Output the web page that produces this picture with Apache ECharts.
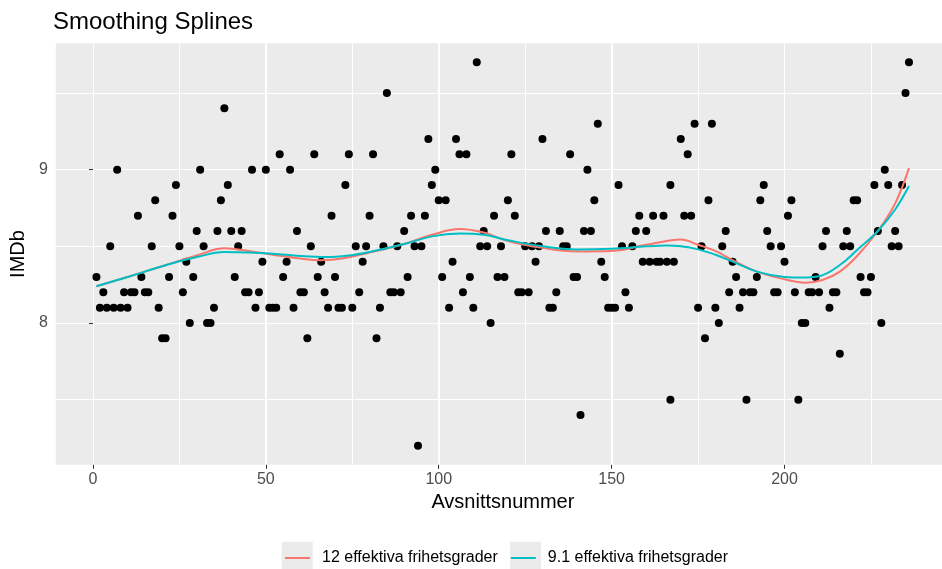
<!DOCTYPE html>
<html>
<head>
<meta charset="utf-8">
<script src="https://cdn.jsdelivr.net/npm/echarts@6/dist/echarts.min.js"></script>
<style>html,body{margin:0;padding:0;background:#fff}#c{width:942px;height:569px}</style>
</head>
<body>
<div id="c"></div>
<script>
// Episode numbers (x) and IMDb ratings (y)
const episodes = [
  1,2,3,4,5,6,7,8,9,10,
  11,12,13,14,15,16,17,18,19,20,
  21,22,23,24,25,26,27,28,29,30,
  31,32,33,34,35,36,37,38,39,40,
  41,42,43,44,45,46,47,48,49,50,
  51,52,53,54,55,56,57,58,59,60,
  61,62,63,64,65,66,67,68,69,70,
  71,72,73,74,75,76,77,78,79,80,
  81,82,83,84,85,86,87,88,89,90,
  91,92,93,94,95,96,97,98,99,100,
  101,102,103,104,105,106,107,108,109,110,
  111,112,113,114,115,116,117,118,119,120,
  121,122,123,124,125,126,127,128,129,130,
  131,132,133,134,135,136,137,138,139,140,
  141,142,143,144,145,146,147,148,149,150,
  151,152,153,154,155,156,157,158,159,160,
  161,162,163,164,165,166,167,167,168,
  170,171,172,173,174,175,176,177,178,179,
  180,181,182,183,184,185,186,187,188,189,
  190,191,192,193,194,195,196,197,198,199,
  200,201,202,203,204,205,206,207,208,209,
  210,211,212,213,214,215,216,217,218,219,
  220,221,222,223,224,225,226,227,228,229,
  230,231,232,233,234,235,236
];
const ratings = [
  8.3,8.1,8.2,8.1,8.5,8.1,9.0,8.1,8.2,8.1,
  8.2,8.2,8.7,8.3,8.2,8.2,8.5,8.8,8.1,7.9,
  7.9,8.3,8.7,8.9,8.5,8.2,8.4,8.0,8.3,8.6,
  9.0,8.5,8.0,8.0,8.1,8.6,8.8,9.4,8.9,8.6,
  8.3,8.5,8.6,8.2,8.2,9.0,8.1,8.2,8.4,9.0,
  8.1,8.1,8.1,9.1,8.3,8.4,9.0,8.1,8.6,8.2,
  8.2,7.9,8.5,9.1,8.3,8.4,8.2,8.1,8.7,8.3,
  8.1,8.1,8.9,9.1,8.1,8.5,8.2,8.4,8.5,8.7,
  9.1,7.9,8.1,8.5,9.5,8.2,8.2,8.5,8.2,8.6,
  8.3,8.7,8.5,7.2,8.5,8.7,9.2,8.9,9.0,8.8,
  8.3,8.8,8.1,8.4,9.2,9.1,8.2,9.1,8.3,8.1,
  9.7,8.5,8.6,8.5,8.0,8.7,8.3,8.5,8.3,8.8,
  9.1,8.7,8.2,8.2,8.5,8.2,8.5,8.4,8.5,9.2,
  8.6,8.1,8.1,8.2,8.6,8.5,8.5,9.1,8.3,8.3,
  7.4,8.6,9.0,8.6,8.8,9.3,8.4,8.3,8.1,8.1,
  8.1,8.9,8.5,8.2,8.1,8.5,8.6,8.7,8.4,8.6,
  8.4,8.7,8.4,8.4,8.7,8.4,8.9,7.5,8.4,
  9.2,8.7,9.1,8.7,9.3,8.1,8.5,7.9,8.8,9.3,
  8.1,8.0,8.5,8.6,8.2,8.4,8.3,8.1,8.2,7.5,
  8.2,8.2,8.3,8.8,8.9,8.6,8.5,8.2,8.2,8.5,
  8.4,8.7,8.8,8.2,7.5,8.0,8.0,8.2,8.2,8.3,
  8.2,8.5,8.6,8.1,8.2,8.2,7.8,8.5,8.6,8.5,
  8.8,8.8,8.3,8.2,8.2,8.3,8.9,8.6,8.0,9.0,
  8.9,8.5,8.6,8.5,8.9,9.5,9.7
];

// Smoothing spline curves at these episodes
const spline12X = [1,10,20,30,38,45,52,60,66,72,80,90,98,106,113,120,130,140,150,160,166,170,175,180,185,192,200,206,211,216,221,227,232,236];
const spline12Y = [8.24,8.30,8.37,8.44,8.487,8.47,8.445,8.42,8.41,8.42,8.46,8.515,8.575,8.613,8.59,8.535,8.49,8.467,8.47,8.51,8.535,8.545,8.51,8.47,8.41,8.335,8.285,8.263,8.28,8.335,8.437,8.60,8.78,9.01];
const spline91X = [1,10,20,30,38,45,52,60,67,74,80,90,98,106,113,120,130,140,150,160,166,170,175,180,185,192,200,205,210,216,221,227,232,236];
const spline91Y = [8.24,8.30,8.37,8.43,8.463,8.46,8.452,8.437,8.43,8.44,8.463,8.515,8.565,8.583,8.575,8.54,8.50,8.48,8.485,8.50,8.505,8.50,8.48,8.445,8.40,8.335,8.30,8.296,8.305,8.378,8.476,8.60,8.74,8.893];

const xTicks = [0,50,100,150,200];
const yTicks = [8,9];
const seriesNames = ['12 effektiva frihetsgrader','9.1 effektiva frihetsgrader'];
const titleText = 'Smoothing Splines';
const xTitle = 'Avsnittsnummer';
const yTitle = 'IMDb';

const FONT = 'Liberation Sans, Arial, Helvetica, sans-serif';
const points = episodes.map((e,i)=>[e, ratings[i]]);
const curve12 = spline12X.map((e,i)=>[e, spline12Y[i]]);
const curve91 = spline91X.map((e,i)=>[e, spline91Y[i]]);

const XMIN = -10.75, XMAX = 245.55, YMIN = 7.075, YMAX = 9.825;

const chart = echarts.init(document.getElementById('c'), null, {renderer:'canvas'});
chart.setOption({
  animation: false,
  backgroundColor: '#ffffff',
  title: {
    text: titleText, left: 53, top: 10, padding: 0,
    textStyle: {fontFamily: FONT, fontSize: 24, fontWeight: 'normal', color: '#000'}
  },
  grid: {
    left: 53.4, top: 43.2, width: 888.6, height: 421.6,
    show: true, backgroundColor: '#EBEBEB', borderWidth: 0, containLabel: false
  },
  xAxis: [
    {
      type: 'value', min: XMIN, max: XMAX, minInterval: 50, maxInterval: 50,
      axisLine: {show: false},
      axisTick: {show: true, length: 4, customValues: xTicks, lineStyle: {color: '#333', width: 1}},
      axisLabel: {customValues: xTicks, color: '#4D4D4D', fontSize: 16, fontFamily: FONT, margin: 7},
      splitLine: {show: true, showMinLine: false, showMaxLine: false, lineStyle: {color: '#ffffff', width: 2}},
      name: xTitle, nameLocation: 'middle', nameGap: 27,
      nameTextStyle: {fontFamily: FONT, fontSize: 20, color: '#000', padding: [0,0,0,8]}
    },
    {
      type: 'value', min: XMIN, max: XMAX, minInterval: 25, maxInterval: 25,
      axisLine: {show: false}, axisTick: {show: false}, axisLabel: {show: false},
      splitLine: {show: true, showMinLine: false, showMaxLine: false, lineStyle: {color: '#ffffff', width: 1}}
    }
  ],
  yAxis: [
    {
      type: 'value', min: YMIN, max: YMAX, minInterval: 1, maxInterval: 1,
      axisLine: {show: false},
      axisTick: {show: true, length: 4, customValues: yTicks, lineStyle: {color: '#333', width: 1}},
      axisLabel: {customValues: yTicks, color: '#4D4D4D', fontSize: 16, fontFamily: FONT, margin: 8},
      splitLine: {show: true, showMinLine: false, showMaxLine: false, lineStyle: {color: '#ffffff', width: 2}},
      name: yTitle, nameLocation: 'middle', nameGap: 21, nameRotate: 90,
      nameTextStyle: {fontFamily: FONT, fontSize: 20, color: '#000'}
    },
    {
      type: 'value', min: YMIN, max: YMAX, minInterval: 0.5, maxInterval: 0.5,
      axisLine: {show: false}, axisTick: {show: false}, axisLabel: {show: false},
      splitLine: {show: true, showMinLine: false, showMaxLine: false, lineStyle: {color: '#ffffff', width: 1}}
    }
  ],
  legend: {
    data: seriesNames, left: 285, top: 550, padding: 0,
    icon: 'rect', itemWidth: 25, itemHeight: 2, itemGap: 13,
    textStyle: {fontFamily: FONT, fontSize: 16, color: '#000', padding: [0,0,0,7]}
  },
  graphic: [
    {type: 'rect', left: 281.7, top: 541.7, shape: {width: 31, height: 30}, style: {fill: '#EBEBEB'}, z: 0, silent: true},
    {type: 'rect', left: 510, top: 541.7, shape: {width: 31, height: 30}, style: {fill: '#EBEBEB'}, z: 0, silent: true}
  ],
  series: [
    {
      type: 'scatter', name: 'points', data: points, xAxisIndex: 0, yAxisIndex: 0,
      symbol: 'circle', symbolSize: 8, itemStyle: {color: '#000', opacity: 1}, z: 2
    },
    {
      type: 'line', name: seriesNames[0], data: curve12, xAxisIndex: 0, yAxisIndex: 0,
      smooth: 0.4, showSymbol: false, lineStyle: {color: '#F8766D', width: 2}, itemStyle: {color: '#F8766D'}, z: 3
    },
    {
      type: 'line', name: seriesNames[1], data: curve91, xAxisIndex: 0, yAxisIndex: 0,
      smooth: 0.4, showSymbol: false, lineStyle: {color: '#00BFC4', width: 2}, itemStyle: {color: '#00BFC4'}, z: 4
    }
  ]
});
</script>
</body>
</html>
